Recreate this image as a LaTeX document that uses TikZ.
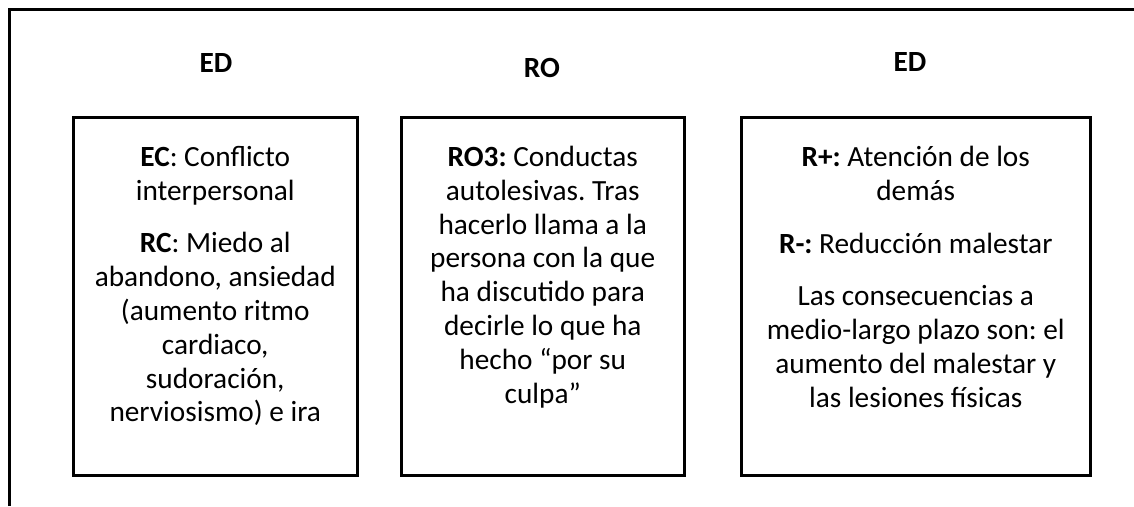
\documentclass[tikz,border=0pt]{standalone}
\usepackage{fontspec}
\setmainfont{Carlito}
\usetikzlibrary{positioning}
\tikzset{
  caja/.style={draw,line width=2.5pt,minimum width=#1,minimum height=358pt,inner sep=0pt,anchor=north west},
  texto/.style={align=center,inner sep=0pt,font=\fontsize{29.3pt}{33.8pt}\selectfont\frenchspacing},
  titulo/.style={inner sep=0pt,anchor=base,font=\fontsize{29.3pt}{33.8pt}\selectfont\bfseries}
}
\begin{document}
\begin{tikzpicture}[x=1pt,y=-1pt]
  \useasboundingbox (0,0) rectangle (1134,506);
  % marco
  \draw[line width=3pt] (9,506) -- (9,9.5) -- (1134,9.5);
  % cajas
  \node[caja=284pt] (ed1) at (72,116) {};
  \node[caja=283pt] (ro) at (400,116) {};
  \node[caja=349pt] (ed2) at (740,116) {};
  % titulos
  \node[titulo] (ted1) at (216,72) {ED};
  \node[titulo] (tro) at (542,77) {RO};
  \node[titulo] (ted2) at (910,71) {ED};
  % textos
  \node[texto,below=30pt of ed1.north] (xed1) {\textbf{EC}: Conflicto\\interpersonal\\[19pt]
    \textbf{RC}: Miedo al\\abandono, ansiedad\\(aumento ritmo\\cardiaco,\\sudoración,\\nerviosismo) e ira};
  \node[texto,below=30pt of ro.north] (xro) {\textbf{RO3:} Conductas\\autolesivas. Tras\\hacerlo llama a la\\
    persona con la que\\ha discutido para\\decirle lo que ha\\hecho “por su\\culpa”};
  \node[texto,below=30pt of ed2.north] (xed2) {\textbf{R+:} Atención de los\\demás\\[19pt]
    \textbf{R-:} Reducción malestar\\[19pt]
    Las consecuencias a\\medio-largo plazo son: el\\aumento del malestar y\\las lesiones físicas};
\end{tikzpicture}
\end{document}
